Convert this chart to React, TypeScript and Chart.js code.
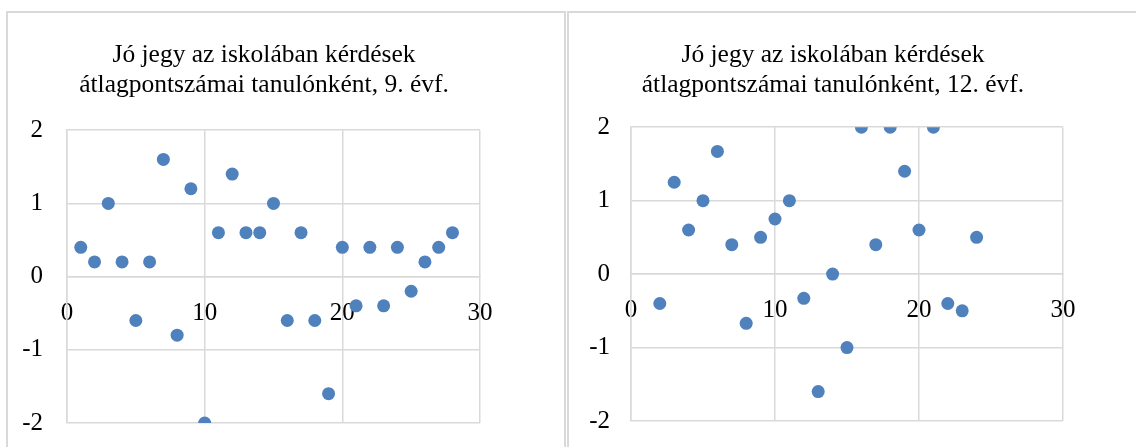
import React, { useEffect, useRef } from "react";
import { Chart, registerables } from "chart.js";

Chart.register(...registerables);

// ---- Data ----
const title9: string[] = ["Jó jegy az iskolában kérdések", "átlagpontszámai tanulónként, 9. évf."];
const x9: number[] = [1, 2, 3, 4, 5, 6, 7, 8, 9, 10, 11, 12, 13, 14, 15, 16, 17, 18, 19, 20, 21, 22, 23, 24, 25, 26, 27, 28];
const y9: number[] = [0.4, 0.2, 1, 0.2, -0.6, 0.2, 1.6, -0.8, 1.2, -2, 0.6, 1.4, 0.6, 0.6, 1, -0.6, 0.6, -0.6, -1.6, 0.4, -0.4, 0.4, -0.4, 0.4, -0.2, 0.2, 0.4, 0.6];

const title12: string[] = ["Jó jegy az iskolában kérdések", "átlagpontszámai tanulónként, 12. évf."];
const x12: number[] = [2, 3, 4, 5, 6, 7, 8, 9, 10, 11, 12, 13, 14, 15, 16, 17, 18, 19, 20, 21, 22, 23, 24];
const y12: number[] = [-0.4, 1.25, 0.6, 1, 1.67, 0.4, -0.67, 0.5, 0.75, 1, -0.33, -1.6, 0, -1, 2, 0.4, 2, 1.4, 0.6, 2, -0.4, -0.5, 0.5];

const xMin = 0;
const xMax = 30;
const xStep = 10;
const yMin = -2;
const yMax = 2;
const yStep = 1;

const FONT = "'Liberation Serif', 'Times New Roman', serif";
const GRID = "#d9d9d9";
const POINT = "#4f81bd";

type Props = {
  title: string[];
  xs: number[];
  ys: number[];
  left: number;
  width: number;
  height: number;
  pad: { left: number; right: number; top: number; bottom: number };
  yWidth: number;
  yPad: number;
  xPad: number;
  titleBottom: number;
  titleShift: number;
};

function ScatterPanel(p: Props) {
  const ref = useRef<HTMLCanvasElement | null>(null);
  useEffect(() => {
    if (!ref.current) return;
    const pts = p.xs.map((x, i) => ({ x, y: p.ys[i] }));
    const shiftTitle = {
      id: "shiftTitle",
      afterLayout(chart: any) {
        const t = chart.titleBlock;
        if (t) {
          t.left += p.titleShift;
          t.right += p.titleShift;
        }
      },
    };
    const chart = new Chart(ref.current, {
      type: "scatter",
      data: {
        datasets: [
          {
            data: pts,
            backgroundColor: POINT,
            borderColor: POINT,
            borderWidth: 0,
            pointRadius: 6.5,
          },
        ],
      },
      options: {
        animation: false,
        responsive: false,
        devicePixelRatio: 1,
        layout: { padding: p.pad },
        plugins: {
          legend: { display: false },
          tooltip: { enabled: false },
          title: {
            display: true,
            text: p.title,
            color: "#000",
            font: { family: FONT, size: 25.5, weight: "normal", lineHeight: 1.18 },
            padding: { top: 27, bottom: p.titleBottom },
          },
        },
        scales: {
          x: {
            type: "linear",
            min: xMin,
            max: xMax,
            position: { y: 0 },
            afterFit: (s: any) => {
              s.height = 0;
            },
            ticks: {
              stepSize: xStep,
              color: "#000",
              padding: p.xPad,
              maxRotation: 0,
              font: { family: FONT, size: 25 },
            },
            grid: { color: GRID, lineWidth: 1.5, drawTicks: false },
            border: { color: GRID, width: 1.5 },
          },
          y: {
            type: "linear",
            min: yMin,
            max: yMax,
            afterFit: (s: any) => {
              s.width = p.yWidth;
            },
            ticks: {
              stepSize: yStep,
              color: "#000",
              padding: p.yPad,
              font: { family: FONT, size: 25 },
            },
            grid: { color: GRID, lineWidth: 1.5, drawTicks: false },
            border: { color: GRID, width: 1.5 },
          },
        },
      },
      plugins: [shiftTitle],
    });
    return () => chart.destroy();
  }, []);
  return (
    <canvas
      ref={ref}
      width={p.width}
      height={p.height}
      style={{ position: "absolute", left: p.left, top: 13, width: p.width, height: p.height }}
    />
  );
}

export default function App() {
  return (
    <div
      style={{
        position: "absolute",
        left: 0,
        top: 0,
        width: 1136,
        height: 447,
        overflow: "hidden",
        background: "#fff",
      }}
    >
      <div
        style={{
          position: "absolute",
          left: 6,
          top: 11,
          width: 560,
          height: 500,
          border: `2px solid ${GRID}`,
          boxSizing: "border-box",
        }}
      />
      <div
        style={{
          position: "absolute",
          left: 567,
          top: 11,
          width: 620,
          height: 500,
          border: `2px solid ${GRID}`,
          boxSizing: "border-box",
        }}
      />
      <ScatterPanel
        title={title9}
        xs={x9}
        ys={y9}
        left={8}
        width={512}
        height={455}
        pad={{ left: 0, right: 40, top: 0, bottom: 45 }}
        yWidth={59}
        yPad={24}
        xPad={21.5}
        titleBottom={30}
        titleShift={20}
      />
      <ScatterPanel
        title={title12}
        xs={x12}
        ys={y12}
        left={569}
        width={534}
        height={453}
        pad={{ left: 0, right: 40, top: 0, bottom: 45 }}
        yWidth={62}
        yPad={21}
        xPad={21}
        titleBottom={27}
        titleShift={17}
      />
    </div>
  );
}
